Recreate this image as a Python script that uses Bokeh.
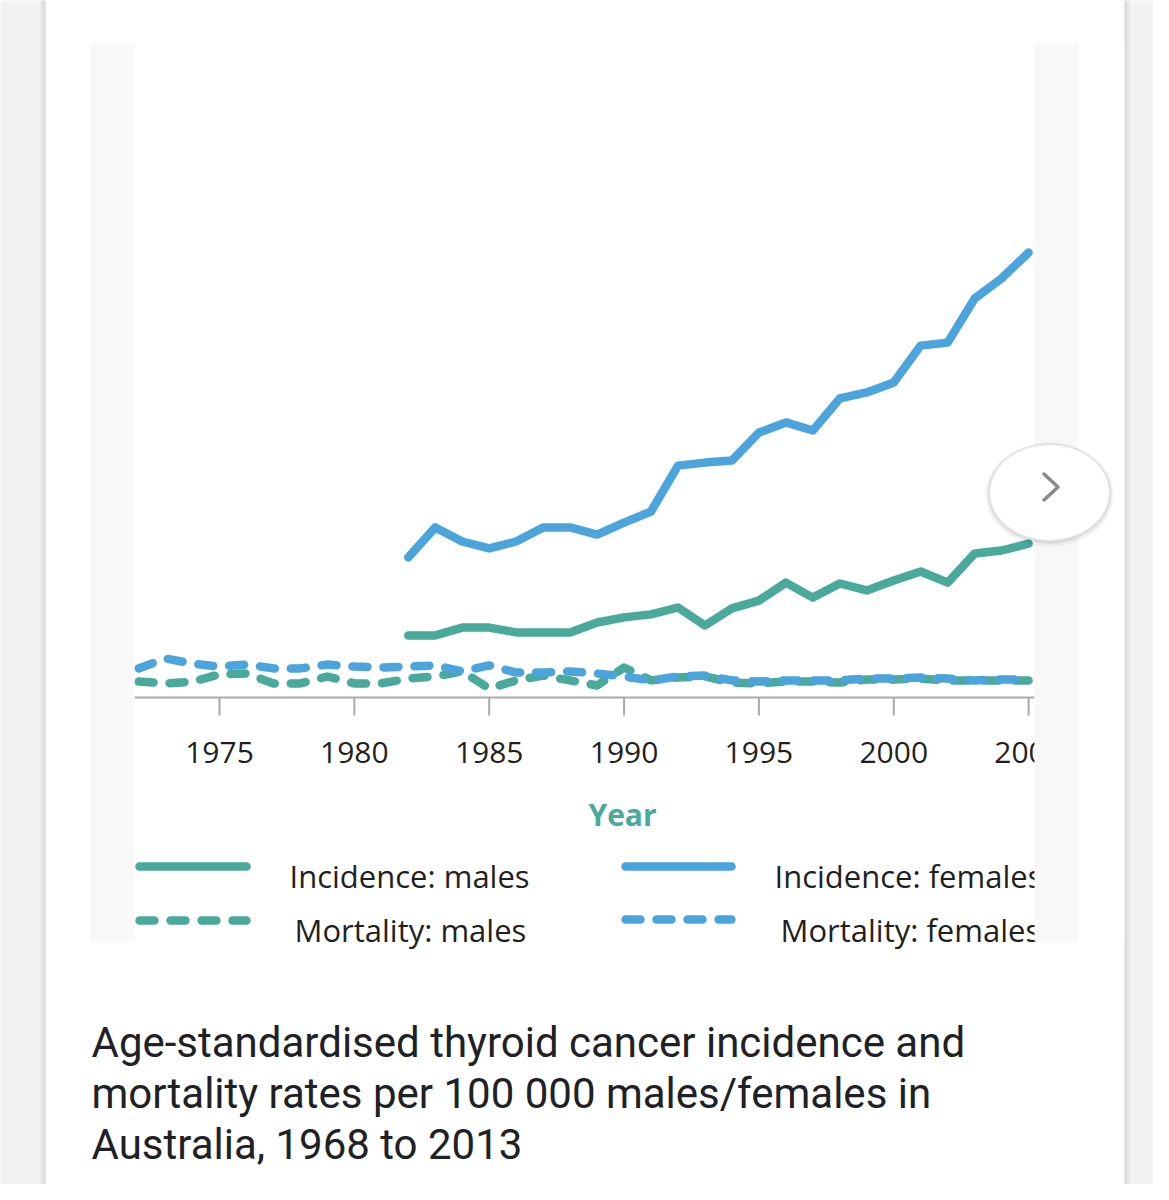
from bokeh.plotting import figure
from bokeh.models import Range1d
from bokeh.core.properties import value
from bokeh.embed import file_html
from bokeh.resources import INLINE

# ---------------- data ----------------
incidence_years = list(range(1982, 2006))
female_incidence = [4.67, 5.67, 5.2, 4.97, 5.2, 5.67, 5.67, 5.43, 5.83, 6.2,
                    7.73, 7.83, 7.9, 8.83, 9.17, 8.9, 9.97, 10.17, 10.5, 11.73,
                    11.83, 13.3, 13.97, 14.83]
male_incidence = [2.07, 2.07, 2.33, 2.33, 2.17, 2.17, 2.17, 2.5, 2.67, 2.77,
                  3.0, 2.4, 2.97, 3.23, 3.83, 3.33, 3.8, 3.57, 3.9, 4.2,
                  3.83, 4.8, 4.9, 5.13]
mortality_years = list(range(1972, 2006))
female_mortality = [0.97, 1.3, 1.13, 1.03, 1.1, 0.97, 0.97, 1.1, 1.03, 1.0,
                    1.03, 1.07, 0.87, 1.07, 0.83, 0.83, 0.87, 0.8, 0.7, 0.57,
                    0.7, 0.73, 0.57, 0.53, 0.57, 0.57, 0.57, 0.63, 0.63, 0.67,
                    0.63, 0.57, 0.6, 0.6]
male_mortality = [0.53, 0.47, 0.53, 0.77, 0.8, 0.47, 0.47, 0.7, 0.47, 0.47,
                  0.63, 0.7, 0.87, 0.3, 0.57, 0.73, 0.57, 0.4, 1.0, 0.57,
                  0.67, 0.7, 0.5, 0.47, 0.53, 0.53, 0.5, 0.6, 0.6, 0.63,
                  0.57, 0.57, 0.57, 0.57]
tick_years = [1975, 1980, 1985, 1990, 1995, 2000, 2005]
tick_labels = ["1975", "1980", "1985", "1990", "1995", "2000", "2005"]
legend_labels = ["Incidence: males", "Mortality: males",
                 "Incidence: females", "Mortality: females"]
x_title = "Year"
caption_lines = ["Age-standardised thyroid cancer incidence and",
                 "mortality rates per 100 000 males/females in",
                 "Australia, 1968 to 2013"]

# ---------------- styling ----------------
TEAL = "#49a99b"
BLUE = "#4ba4dc"
AXIS = "#a9a9a9"
TXT = "#231f20"
DASH = "15 16"
LW = 8.5

# page geometry (screen px): years -> x, values -> y
OFF = 0
PX_PER_YEAR = 26.97
X1975 = 219.0
Y_ZERO = 697.0
PX_PER_UNIT = 30.0
W, H = 1153, 1184


def SX(px):
    return 1975 + (px - X1975) / PX_PER_YEAR


def SY(py):
    return (Y_ZERO - py) / PX_PER_UNIT


p = figure(width=W, height=H,
           x_range=Range1d(SX(OFF), SX(OFF + W)),
           y_range=Range1d(SY(OFF + H), SY(OFF)),
           output_backend="svg", toolbar_location=None,
           x_axis_location=None, y_axis_location=None,
           min_border=0, outline_line_color=None,
           background_fill_color="white", border_fill_color="white")
p.grid.visible = False

# page background (grey sides + card shadows)
p.quad(left=[SX(-10), SX(1124)], right=[SX(45), SX(1200)],
       top=[SY(-10)] * 2, bottom=[SY(1210)] * 2,
       fill_color="#f2f2f2", line_color=None)
p.quad(left=[SX(40), SX(1124)], right=[SX(45), SX(1129)],
       top=[SY(-10)] * 2, bottom=[SY(1210)] * 2,
       fill_color="#000000", fill_alpha=0.05, line_color=None)
p.quad(left=[SX(43), SX(1124)], right=[SX(45), SX(1126)],
       top=[SY(-10)] * 2, bottom=[SY(1210)] * 2,
       fill_color="#000000", fill_alpha=0.06, line_color=None)

# x axis line, ticks and labels
p.segment(x0=[SX(134)], y0=[0], x1=[SX(1034)], y1=[0],
          line_color=AXIS, line_width=2)
p.segment(x0=tick_years, y0=[0] * len(tick_years), x1=tick_years,
          y1=[SY(715)] * len(tick_years), line_color=AXIS, line_width=2)
p.text(x=tick_years, y=[SY(752)] * len(tick_years), text=tick_labels,
       text_font=value("Open Sans"), text_font_size=value("30px"),
       text_color=TXT, text_align="center", text_baseline="alphabetic")
p.text(x=[SX(622)], y=[SY(814)], text=[x_title],
       text_font=value("Open Sans"), text_font_size=value("30px"),
       text_font_style="bold", text_color=TEAL,
       text_align="center", text_baseline="alphabetic")

# series
p.line(mortality_years, male_mortality, line_color=TEAL, line_width=LW,
       line_dash=DASH, line_cap="round", line_join="round")
p.line(mortality_years, female_mortality, line_color=BLUE, line_width=LW,
       line_dash=DASH, line_cap="round", line_join="round")
p.line(incidence_years, male_incidence, line_color=TEAL, line_width=LW,
       line_cap="round", line_join="round")
p.line(incidence_years, female_incidence, line_color=BLUE, line_width=LW,
       line_cap="round", line_join="round")

# legend
leg = [(TEAL, None, 139, 246, 866, 289, legend_labels[0], 875),
       (TEAL, DASH, 139, 246, 920, 294, legend_labels[1], 929),
       (BLUE, None, 625, 731, 866, 774, legend_labels[2], 875),
       (BLUE, DASH, 625, 731, 919, 780, legend_labels[3], 929)]
for col, dash, xa, xb, yl, xt, lab, yt in leg:
    kw = dict(line_color=col, line_width=LW, line_cap="round")
    if dash:
        kw["line_dash"] = dash
    p.line([SX(xa), SX(xb)], [SY(yl), SY(yl)], **kw)
    p.text(x=[SX(xt)], y=[SY(yt)], text=[lab],
           text_font=value("Open Sans"), text_font_size=value("31px"),
           text_color=TXT, text_align="left", text_baseline="alphabetic")

# light strips at the image edges (clip the chart on the right)
p.quad(left=[SX(90), SX(1034)], right=[SX(134), SX(1078)],
       top=[SY(43)] * 2, bottom=[SY(941)] * 2,
       fill_color="#f8f8f8", line_color=None)
p.quad(left=[SX(1078)], right=[SX(1124)], top=[SY(43)], bottom=[SY(941)],
       fill_color="white", line_color=None)

# carousel "next" button
p.ellipse(x=[SX(1049)], y=[SY(494)], width=128, height=104,
          width_units="screen", height_units="screen",
          fill_color="#000000", fill_alpha=0.05, line_color=None)
p.ellipse(x=[SX(1049)], y=[SY(493)], width=124, height=100,
          width_units="screen", height_units="screen",
          fill_color="#000000", fill_alpha=0.07, line_color=None)
p.ellipse(x=[SX(1049)], y=[SY(492)], width=120, height=96,
          width_units="screen", height_units="screen",
          fill_color="white", line_color="#e4e4e4", line_width=1)
p.line([SX(1043.5), SX(1057.5), SX(1043.5)], [SY(473.5), SY(486.5), SY(499.5)],
       line_color="#8a8a8a", line_width=3.5, line_cap="round", line_join="round")

# caption
p.text(x=[SX(91)] * 3, y=[SY(1042), SY(1093), SY(1144)], text=caption_lines,
       text_font=value("Roboto"), text_font_size=value("42px"),
       text_color="#202124", text_align="left", text_baseline="alphabetic")

open("out.html", "w").write(file_html(p, INLINE))
